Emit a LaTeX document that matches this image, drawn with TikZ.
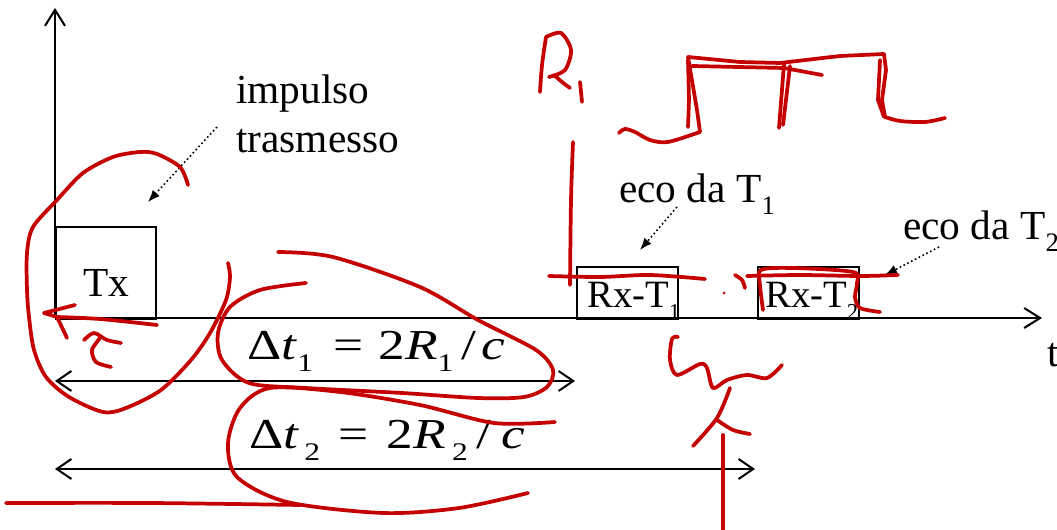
\documentclass[tikz,border=0pt]{standalone}
\usepackage{fontspec}
\setmainfont{Liberation Serif}
\usepackage{tikz}
\usetikzlibrary{arrows.meta}

\definecolor{inkred}{RGB}{196,0,0}
\newcommand{\lowsub}[2][19]{\raisebox{-9pt}{\fontsize{#1}{#1}\selectfont #2}}

\begin{document}
\begin{tikzpicture}[x=0.75pt, y=-0.75pt,
  axis/.style={line width=1.5pt, -{Straight Barb[length=12pt, width=15pt]}},
  span/.style={line width=1.5pt, {Straight Barb[length=11pt, width=15pt]}-{Straight Barb[length=11pt, width=15pt]}},
  box/.style={draw, line width=1.5pt, anchor=north west, inner sep=0pt},
  hint/.style={dotted, line width=1.2pt, -{Latex[length=9pt, width=7pt]}},
  txt/.style={anchor=base west, inner sep=0pt, font=\fontsize{31}{36}\selectfont},
  ink/.style={draw=inkred, line width=2.8pt, line cap=round, line join=round}]

  \useasboundingbox (0,0) rectangle (1057,530);

  % axes
  \coordinate (o) at (55,318);
  \coordinate (tend) at (1042,318);
  \coordinate (yend) at (55,8);
  \draw[axis] (o) -- (tend);
  \draw[axis] (o) -- (yend);
  \node[txt] (tlabel) at (1047,367) {t};

  % pulses
  \node[box, minimum width=75pt, minimum height=69pt] (tx) at (55,226) {};
  \node[box, minimum width=75.75pt, minimum height=39pt] (rx1) at (576,266) {};
  \node[box, minimum width=75.75pt, minimum height=39pt] (rx2) at (757,266) {};
  \node[txt] (txlabel) at (83,297) {Tx};
  \node[txt, font=\fontsize{29}{34}\selectfont] (rx1label) at (587,308) {Rx-T\lowsub[17]{1}};
  \node[txt, font=\fontsize{29}{34}\selectfont] (rx2label) at (765,308) {Rx-T\lowsub[17]{2}};

  % labels with dotted pointers
  \node[txt] (imp1) at (236,104) {impulso};
  \node[txt] (imp2) at (236,153) {trasmesso};
  \node[txt] (eco1) at (619,203) {eco da T\lowsub[20]{1}};
  \node[txt] (eco2) at (903,240) {eco da T\lowsub[20]{2}};
  \coordinate (p1) at (217,127);
  \coordinate (q1) at (148,202);
  \coordinate (p2) at (677,207);
  \coordinate (q2) at (640,250);
  \coordinate (p3) at (939,247);
  \coordinate (q3) at (885,275);
  \draw[hint] (p1) -- (q1);
  \draw[hint] (p2) -- (q2);
  \draw[hint] (p3) -- (q3);

  % delays
  \coordinate (d1a) at (55,381);
  \coordinate (d1b) at (575,381);
  \coordinate (d2a) at (55,469);
  \coordinate (d2b) at (755,469);
  \draw[span] (d1a) -- (d1b);
  \draw[span] (d2a) -- (d2b);
  \node[txt, font=\fontsize{32}{32}\selectfont] (dt1) at (247,360)
    {\scalebox{1.25}[1]{Δ\textit{t}\lowsub{1}\hspace{12pt}=\hspace{9pt}2\textit{R}\lowsub{1}\hspace{5pt}/\hspace{3pt}\textit{c}}};
  \node[txt, font=\fontsize{32}{32}\selectfont] (dt2) at (249,449)
    {\scalebox{1.25}[1]{Δ\textit{t}\hspace{3pt}\lowsub{2}\hspace{11pt}=\hspace{11pt}2\textit{R}\hspace{3.5pt}\lowsub{2}\hspace{5pt}/\hspace{6pt}\textit{c}}};

  % handwritten notes
  \draw[ink] plot[smooth] coordinates {(188,185) (180,167) (157,154) (140,152) (113,157) (83,173) (57,200) (33,227) (27,253) (27,290) (29,317) (34,350) (46,377) (69,397) (103,412) (126,408) (161,390) (191,360) (210,333) (226,300) (230,277) (228,263)};
  \draw[ink] (75,305) -- (44,313) -- (57,317) -- (67,338);
  \draw[ink] plot[smooth] coordinates {(57,317) (100,319) (157,325)};
  \draw[ink] plot[smooth] coordinates {(84,340) (94,333) (107,340) (121,343)};
  \draw[ink] plot[smooth] coordinates {(100,338) (92,350) (96,362) (111,367)};
  \draw[ink] plot[smooth] coordinates {(306,283) (260,290) (230,307) (218,333) (222,360) (249,383) (306,388) (402,393) (478,398) (524,397) (547,387) (553,370) (536,350) (478,320) (420,287) (333,257) (278,252)};
  \draw[ink] plot[smooth] coordinates {(555,422) (494,423) (420,405) (340,392) (270,388) (240,408) (228,443) (237,477) (287,502) (383,513) (459,508) (528,493)};
  \draw[ink] plot[smooth] coordinates {(6,503) (150,503) (300,505)};
  % R1
  \draw[ink] plot[smooth] coordinates {(540,92) (542,65) (546,37)};
  \draw[ink] plot[smooth] coordinates {(546,37) (561,33) (571,50) (565,70) (549,77)};
  \draw[ink] plot[smooth] coordinates {(554,75) (562,82) (570,88)};
  \draw[ink] (580,82) -- (582,102);
  \draw[ink] plot[smooth] coordinates {(573,142) (571,200) (570,285)};
  % echo levels
  \draw[ink] plot[smooth] coordinates {(549,276) (600,277) (650,275) (705,279)};
  \fill[inkred] (724,293) circle (1.5);
  \draw[ink] plot[smooth] coordinates {(735,275) (742,280) (745,288)};
  \draw[ink] plot[smooth] coordinates {(747,276) (800,275) (860,276) (898,275)};
  \draw[ink] plot[smooth] coordinates {(763,310) (760,285) (761,270) (793,268) (853,272) (857,283) (855,297) (860,308) (880,312)};
  % received waveform
  \draw[ink] plot[smooth] coordinates {(619,133) (625,129) (635,132) (650,140) (668,142) (700,132)}
    -- (697,110) -- (688,57) -- (740,62) -- (780,63) -- (840,56) -- (884,54) -- (886,70) -- (882,100) -- (885,117)
    plot[smooth] coordinates {(885,117) (900,121) (925,122) (945,118)};
  \draw[ink] (688,60) -- (689,100) -- (688,127);
  \draw[ink] (692,66) -- (784,68) -- (822,75);
  \draw[ink] (784,64) -- (779,128);
  \draw[ink] (790,66) -- (783,125);
  \draw[ink] (880,60) -- (878,100) -- (884,117);
  % wavy line below
  \draw[ink] plot[smooth] coordinates {(678,337) (672,339) (670,360) (677,375) (700,364) (707,368) (713,388) (727,380) (747,375) (767,378) (782,365)};
  \draw[ink] plot[smooth] coordinates {(730,388) (717,418) (693,446)};
  \draw[ink] plot[smooth] coordinates {(717,420) (733,430) (750,434)};
  \draw[ink] (723,435) -- (723,530);
\end{tikzpicture}
\end{document}
